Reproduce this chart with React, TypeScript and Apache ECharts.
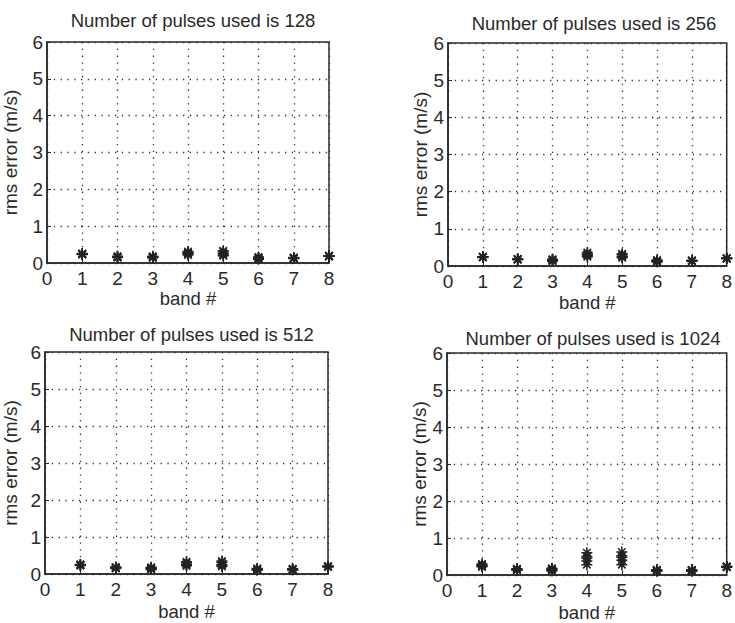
import React, { useEffect, useRef } from "react";
import * as echarts from "echarts";

const bands = [1, 2, 3, 4, 5, 6, 7, 8];
const xTicks = [0, 1, 2, 3, 4, 5, 6, 7, 8];
const yTicks = [0, 1, 2, 3, 4, 5, 6];
const pulseCounts = [128, 256, 512, 1024];

// rms error (m/s) per band, several trials per band
const rms128 = [
  [0.24, 0.25, 0.23, 0.26, 0.24],
  [0.16, 0.17, 0.15, 0.18, 0.16],
  [0.15, 0.17, 0.14, 0.18, 0.16],
  [0.22, 0.28, 0.25, 0.31, 0.26],
  [0.2, 0.3, 0.25, 0.33, 0.22],
  [0.12, 0.15, 0.1, 0.16, 0.13],
  [0.13, 0.14, 0.12, 0.15, 0.13],
  [0.18, 0.19, 0.18, 0.2, 0.19],
];
const rms256 = [
  [0.24, 0.25, 0.23, 0.24, 0.25],
  [0.18, 0.19, 0.17, 0.18, 0.19],
  [0.15, 0.17, 0.13, 0.18, 0.16],
  [0.25, 0.32, 0.28, 0.36, 0.3],
  [0.22, 0.3, 0.26, 0.33, 0.24],
  [0.12, 0.15, 0.11, 0.16, 0.13],
  [0.14, 0.15, 0.13, 0.14, 0.15],
  [0.2, 0.21, 0.2, 0.21, 0.2],
];
const rms512 = [
  [0.24, 0.25, 0.23, 0.26, 0.24],
  [0.16, 0.18, 0.15, 0.19, 0.17],
  [0.14, 0.17, 0.12, 0.18, 0.15],
  [0.22, 0.3, 0.26, 0.33, 0.25],
  [0.2, 0.32, 0.26, 0.35, 0.23],
  [0.12, 0.14, 0.1, 0.15, 0.13],
  [0.12, 0.13, 0.11, 0.14, 0.12],
  [0.2, 0.21, 0.19, 0.2, 0.21],
];
const rms1024 = [
  [0.22, 0.28, 0.25, 0.3, 0.24],
  [0.14, 0.16, 0.13, 0.17, 0.15],
  [0.13, 0.17, 0.11, 0.18, 0.15],
  [0.28, 0.45, 0.38, 0.6, 0.5],
  [0.28, 0.48, 0.4, 0.62, 0.52],
  [0.11, 0.13, 0.1, 0.14, 0.12],
  [0.11, 0.13, 0.1, 0.14, 0.12],
  [0.21, 0.23, 0.22, 0.22, 0.23],
];
const panelData = [rms128, rms256, rms512, rms1024];

// layout per panel (pixel boxes of the plot areas)
const boxes = [
  { left: 47, top: 42, width: 282, height: 221, yGap: 27, xGap: 25 },
  { left: 448, top: 43, width: 282, height: 223, yGap: 13, xGap: 27 },
  { left: 45, top: 352, width: 283, height: 222, yGap: 25, xGap: 28 },
  { left: 447, top: 353, width: 282, height: 224, yGap: 13, xGap: 28 },
];
const titleTops = [6, 9, 320, 324];

const FONT = "'Liberation Sans', Arial, Helvetica, sans-serif";
const INK = "#2a2a2a";
const ASTERISK =
  "path://M5,0L5,10M0,5L10,5M1.6,1.6L8.4,8.4M1.6,8.4L8.4,1.6";

export default function App() {
  const ref = useRef<HTMLDivElement>(null);
  useEffect(() => {
    if (!ref.current) return;
    const chart = echarts.init(ref.current, undefined, { renderer: "svg" });
    const grids: any[] = [];
    const xAxes: any[] = [];
    const yAxes: any[] = [];
    const titles: any[] = [];
    const series: any[] = [];
    boxes.forEach((b, i) => {
      grids.push({
        left: b.left,
        top: b.top,
        width: b.width,
        height: b.height,
        show: true,
        borderColor: INK,
        borderWidth: 1.5,
        backgroundColor: "#fff",
      });
      titles.push({
        text: `Number of pulses used is ${pulseCounts[i]}`,
        left: b.left + b.width / 2,
        top: titleTops[i],
        textAlign: "center",
        textStyle: { fontFamily: FONT, fontSize: 18.5, fontWeight: "normal", color: INK },
      });
      xAxes.push({
        gridIndex: i,
        type: "value",
        min: xTicks[0],
        max: xTicks[xTicks.length - 1],
        interval: 1,
        name: "band #",
        nameLocation: "middle",
        nameGap: b.xGap,
        nameTextStyle: { fontFamily: FONT, fontSize: 18.5, color: INK, verticalAlign: "top" },
        axisLine: { show: true, lineStyle: { color: INK, width: 1.5 } },
        axisTick: { show: true, inside: true, length: 4, lineStyle: { color: INK } },
        axisLabel: { fontFamily: FONT, fontSize: 19, color: INK, margin: 6 },
        splitLine: { show: true, lineStyle: { color: "#333", width: 1.3, type: [1.3, 5.5] } },
      });
      yAxes.push({
        gridIndex: i,
        type: "value",
        min: yTicks[0],
        max: yTicks[yTicks.length - 1],
        interval: 1,
        name: "rms error (m/s)",
        nameLocation: "middle",
        nameGap: b.yGap,
        nameTextStyle: { fontFamily: FONT, fontSize: 19, color: INK },
        axisLine: { show: true, lineStyle: { color: INK, width: 1.5 } },
        axisTick: { show: true, inside: true, length: 4, lineStyle: { color: INK } },
        axisLabel: { fontFamily: FONT, fontSize: 19, color: INK, margin: 4 },
        splitLine: { show: true, lineStyle: { color: "#333", width: 1.3, type: [1.3, 5.5] } },
      });
      const pts: number[][] = [];
      panelData[i].forEach((vals, bi) => {
        vals.forEach((v) => pts.push([bands[bi], v]));
      });
      series.push({
        type: "scatter",
        xAxisIndex: i,
        yAxisIndex: i,
        data: pts,
        symbol: ASTERISK,
        symbolSize: 11,
        clip: false,
        itemStyle: { color: "none", borderColor: "#222", borderWidth: 1.5, opacity: 1 },
      });
    });
    chart.setOption({
      animation: false,
      backgroundColor: "#fff",
      title: titles,
      grid: grids,
      xAxis: xAxes,
      yAxis: yAxes,
      series,
    });
    return () => chart.dispose();
  }, []);
  return (
    <div
      ref={ref}
      style={{ position: "fixed", left: 0, top: 0, width: 735, height: 623, background: "#fff" }}
    />
  );
}
